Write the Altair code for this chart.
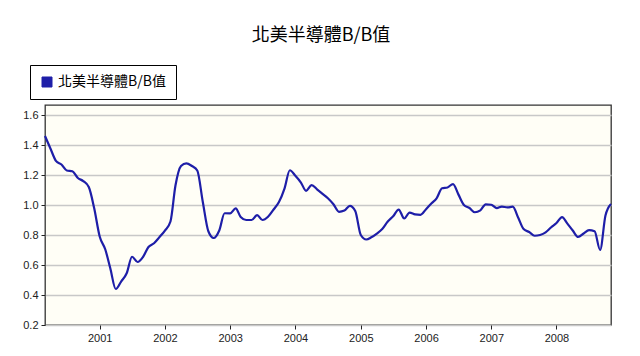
import altair as alt
import pandas as pd

series_name = "北美半導體B/B值"
title_text = "北美半導體B/B值"

# monthly, Mar 2000 .. Nov 2008
start_month = "2000-03-01"
end_month = "2008-11-01"
bb_values = [
    1.46, 1.375, 1.295, 1.27, 1.23, 1.225, 1.18, 1.16, 1.12, 0.98,
    0.79, 0.705, 0.58, 0.44, 0.49, 0.545, 0.655, 0.62, 0.655, 0.72, 0.745, 0.785,
    0.83, 0.89, 1.13, 1.26, 1.278, 1.26, 1.23, 1.02, 0.825, 0.78, 0.83, 0.945,
    0.945, 0.978, 0.92, 0.90, 0.90, 0.933, 0.90, 0.922, 0.97, 1.02, 1.11, 1.232,
    1.195, 1.15, 1.095, 1.133, 1.105, 1.075, 1.045, 1.005, 0.955, 0.963, 0.995, 0.96,
    0.80, 0.77, 0.785, 0.81, 0.84, 0.89, 0.925, 0.97, 0.91, 0.95, 0.938, 0.935,
    0.972, 1.012, 1.045, 1.112, 1.117, 1.14, 1.071, 1.0, 0.98, 0.952, 0.965, 1.005,
    1.002, 0.98, 0.99, 0.984, 0.989, 0.915, 0.84, 0.82, 0.795, 0.80, 0.817, 0.85,
    0.88, 0.92, 0.878, 0.83, 0.787, 0.81, 0.832, 0.825, 0.70, 0.93, 1.007,
]
y_ticks = [0.2, 0.4, 0.6, 0.8, 1.0, 1.2, 1.4, 1.6]
y_domain = [0.2, 1.667]

dates = pd.date_range(start_month, end_month, freq="MS")
df = pd.DataFrame({
    "date": dates.strftime("%Y-%m-%d"),
    "value": bb_values,
    "series": series_name,
})

line_color = "#1e1ea8"

chart = alt.Chart(df).mark_line(
    strokeWidth=2.2, interpolate="monotone"
).encode(
    x=alt.X(
        "date:T",
        scale=alt.Scale(
            type="utc",
            domain=[
                alt.DateTime(year=2000, month=3, date=1, utc=True),
                alt.DateTime(year=2008, month=11, date=1, utc=True),
            ],
        ),
        axis=alt.Axis(
            title=None, format="%Y", tickCount="year", grid=False,
            labelFont="Liberation Sans", labelFontSize=11, labelColor="#222222",
            tickColor="#222222", tickSize=4, domain=False, labelPadding=3,
        ),
    ),
    y=alt.Y(
        "value:Q",
        scale=alt.Scale(domain=y_domain, nice=False, zero=False),
        axis=alt.Axis(
            title=None, values=y_ticks, format=".1f",
            labelFont="Liberation Sans", labelFontSize=11, labelColor="#222222",
            tickColor="#222222", tickSize=4, domain=False,
            gridColor="#c8c8c8", gridWidth=1.3, labelPadding=3,
        ),
    ),
    color=alt.Color(
        "series:N",
        scale=alt.Scale(range=[line_color]),
        legend=alt.Legend(
            title=None, orient="none", legendX=-15, legendY=-40,
            symbolType="square", symbolSize=100, symbolFillColor=line_color,
            symbolStrokeColor="#000044", symbolStrokeWidth=1,
            labelFont="Noto Sans CJK TC", labelFontSize=14, labelColor="#000000",
            strokeColor="#000000", fillColor="#ffffff", padding=10,
            labelLimit=300,
        ),
    ),
).properties(
    width=566,
    height=220,
    title=alt.TitleParams(
        title_text, font="Noto Sans CJK TC", fontSize=18, fontWeight="normal",
        color="#000000", anchor="middle", frame="group", offset=20, dx=-7,
    ),
    autosize=alt.AutoSizeParams(type="none"),
    padding={"left": 45, "top": 105, "right": 29, "bottom": 31},
    background="#ffffff",
).configure_view(
    fill="#fffef6", stroke="#333333", strokeWidth=1.3,
)

chart.save("out.html", embed_options={"renderer": "svg", "actions": False})
